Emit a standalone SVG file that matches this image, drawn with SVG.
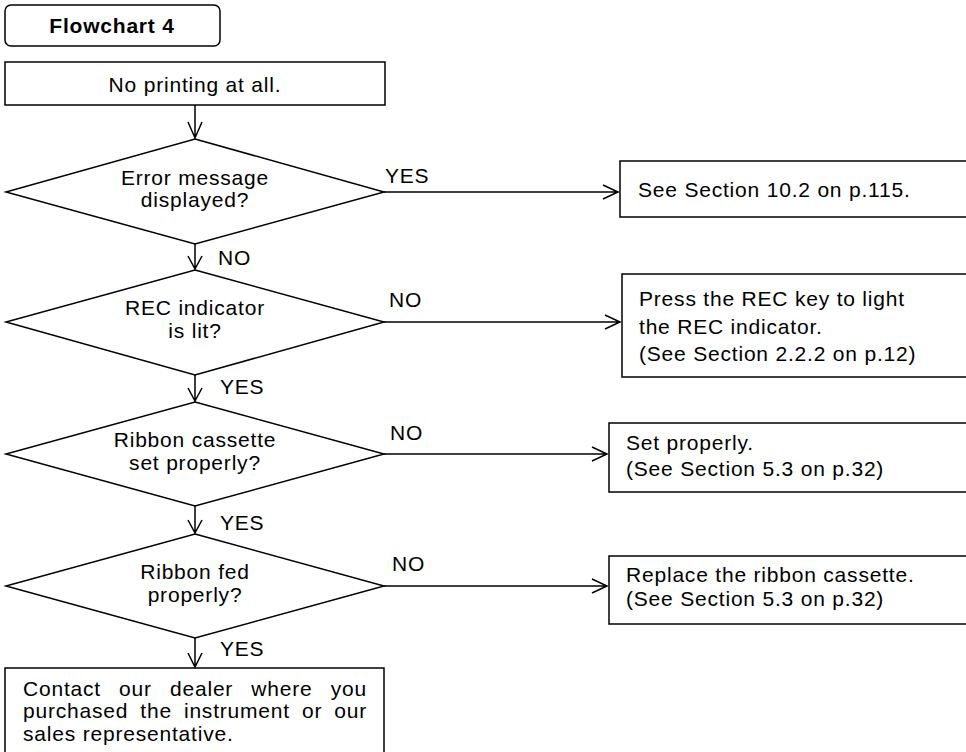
<svg xmlns="http://www.w3.org/2000/svg" width="966" height="752" viewBox="0 0 966 752">
<style>
.s{fill:#fff;stroke:#000;stroke-width:1.5}
.t{font-family:"Liberation Sans",Arial,sans-serif;font-size:21px;letter-spacing:0.8px;fill:#000}
.c{text-anchor:middle}
.b{font-weight:bold}
.ln{fill:none;stroke:#000;stroke-width:1.5}
</style>
<rect width="966" height="752" fill="#fff"/>
<g id="title">
<rect class="s" x="5" y="5" width="215" height="41" rx="6"/>
<text class="t c b" x="112" y="33">Flowchart 4</text>
</g>
<g id="start">
<rect class="s" x="5" y="62" width="380" height="43"/>
<text class="t c" x="195" y="92">No printing at all.</text>
</g>
<g id="d1">
<polygon class="s" points="195,139 384,192 195,244 6,192"/>
<text class="t c" x="195" y="185">Error message</text>
<text class="t c" x="195" y="207">displayed?</text>
</g>
<g id="d2">
<polygon class="s" points="195,270 384,322 195,375 6,322"/>
<text class="t c" x="195" y="315">REC indicator</text>
<text class="t c" x="195" y="338">is lit?</text>
</g>
<g id="d3">
<polygon class="s" points="195,402 384,454 195,506 6,454"/>
<text class="t c" x="195" y="447">Ribbon cassette</text>
<text class="t c" x="195" y="470">set properly?</text>
</g>
<g id="d4">
<polygon class="s" points="195,534 384,586 195,638 6,586"/>
<text class="t c" x="195" y="579">Ribbon fed</text>
<text class="t c" x="195" y="602">properly?</text>
</g>
<g id="r1">
<rect class="s" x="620" y="161" width="360" height="56"/>
<text class="t" x="638" y="197">See Section 10.2 on p.115.</text>
</g>
<g id="r2">
<rect class="s" x="622" y="274" width="360" height="103"/>
<text class="t" x="639" y="306">Press the REC key to light</text>
<text class="t" x="639" y="334">the REC indicator.</text>
<text class="t" x="639" y="361">(See Section 2.2.2 on p.12)</text>
</g>
<g id="r3">
<rect class="s" x="609" y="423" width="370" height="69"/>
<text class="t" x="626" y="450">Set properly.</text>
<text class="t" x="626" y="476">(See Section 5.3 on p.32)</text>
</g>
<g id="r4">
<rect class="s" x="609" y="556" width="370" height="68"/>
<text class="t" x="626" y="582">Replace the ribbon cassette.</text>
<text class="t" x="626" y="606">(See Section 5.3 on p.32)</text>
</g>
<g id="end">
<rect class="s" x="5" y="668" width="379" height="100"/>
<text class="t" x="23" y="696" word-spacing="11.5">Contact our dealer where you</text>
<text class="t" x="23" y="718" word-spacing="5.4">purchased the instrument or our</text>
<text class="t" x="23" y="741">sales representative.</text>
</g>
<g id="connectors">
<path class="ln" d="M195,105 V138 M188,122 L195,138 L202,122"/>
<path class="ln" d="M195,244 V269 M188,256 L195,269 L202,256"/>
<path class="ln" d="M195,375 V401 M188,388 L195,401 L202,388"/>
<path class="ln" d="M195,506 V533 M188,520 L195,533 L202,520"/>
<path class="ln" d="M195,638 V667 M188,653 L195,667 L202,653"/>
<path class="ln" d="M384,192 H618 M603,185 L618,192 L603,199"/>
<path class="ln" d="M384,322 H620 M605,315 L620,322 L605,329"/>
<path class="ln" d="M384,454 H607 M592,447 L607,454 L592,461"/>
<path class="ln" d="M384,586 H607 M592,579 L607,586 L592,593"/>
<text class="t" x="385" y="183">YES</text>
<text class="t" x="218" y="265">NO</text>
<text class="t" x="389" y="307">NO</text>
<text class="t" x="220" y="394">YES</text>
<text class="t" x="390" y="440">NO</text>
<text class="t" x="220" y="530">YES</text>
<text class="t" x="392" y="571">NO</text>
<text class="t" x="220" y="656">YES</text>
</g>
</svg>
